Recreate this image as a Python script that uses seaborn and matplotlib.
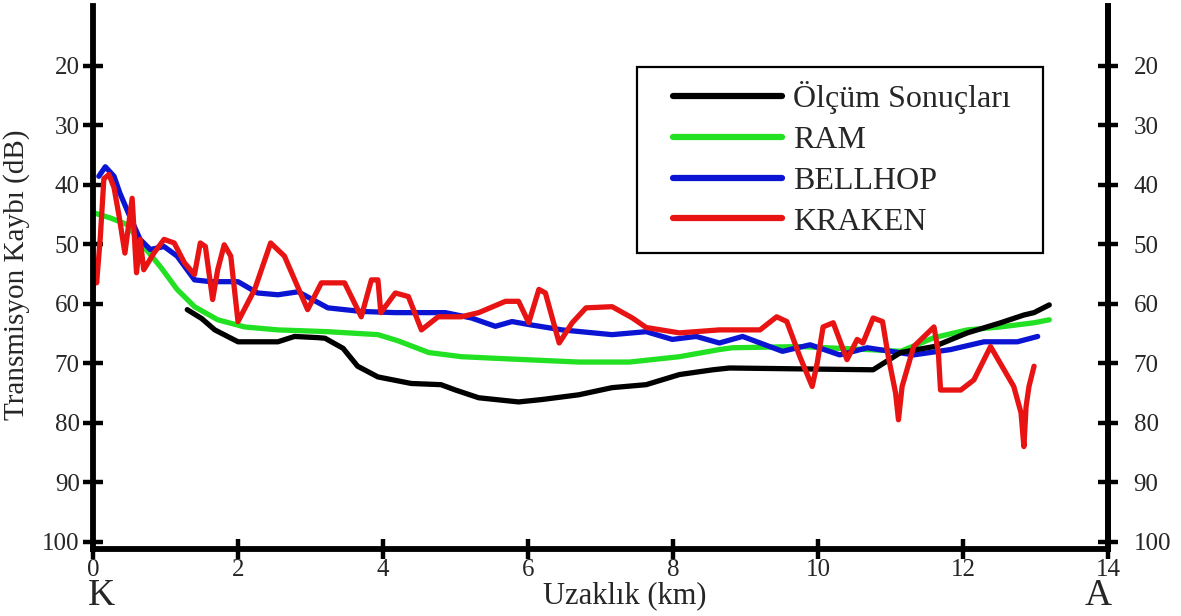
import numpy as np
import pandas as pd
import matplotlib
matplotlib.use("Agg")
import matplotlib.pyplot as plt
from matplotlib.lines import Line2D
from matplotlib.patches import Rectangle
import seaborn as sns

# Measured transmission loss (dB) versus range (km)
olcum_km = [1.3, 1.5, 1.68, 2.0, 2.55, 2.78, 3.1, 3.2, 3.45, 3.65, 3.93, 4.39, 4.8, 5.0,
            5.32, 5.87, 6.19, 6.7, 7.16, 7.63, 8.09, 8.55, 8.78, 10.76, 11.14, 11.6,
            12.06, 12.52, 12.84, 12.98, 13.19]
olcum_db = [61, 62.5, 64.4, 66.4, 66.4, 65.5, 65.7, 65.8, 67.5, 70.5, 72.3, 73.4, 73.6, 74.5,
            75.8, 76.5, 76.1, 75.3, 74.1, 73.6, 71.9, 71.1, 70.8, 71.1, 68.2, 67.2,
            64.9, 63.2, 61.9, 61.5, 60.2]

# RAM model
ram_km = [0.0, 0.24, 0.47, 0.7, 0.93, 1.16, 1.4, 1.72, 2.09, 2.55, 3.24, 3.93, 4.2, 4.63,
          5.08, 5.78, 6.7, 7.4, 8.09, 8.64, 8.82, 9.75, 10.68, 11.14, 11.6, 12.06, 12.52,
          12.98, 13.19]
ram_db = [44.7, 45.6, 46.7, 50.4, 53.8, 57.6, 60.5, 62.7, 63.9, 64.4, 64.7, 65.2, 66.2, 68.2,
          68.9, 69.3, 69.8, 69.8, 68.9, 67.7, 67.4, 67.2, 67.7, 68.0, 65.7, 64.4, 63.9,
          63.2, 62.7]

# BELLHOP model
bellhop_km = [0.08, 0.17, 0.29, 0.37, 0.51, 0.65, 0.79, 0.98, 1.16, 1.4, 1.62, 2.0, 2.27,
              2.55, 2.83, 3.24, 3.7, 4.17, 4.86, 5.22, 5.55, 5.78, 6.01, 6.47, 7.16, 7.63,
              7.99, 8.32, 8.64, 8.96, 9.51, 9.89, 10.3, 10.68, 11.32, 11.83, 12.29, 12.75,
              13.03]
bellhop_db = [38.6, 37.0, 38.6, 41.4, 45.4, 49.2, 50.9, 50.4, 52.0, 56.0, 56.3, 56.3, 58.2,
              58.5, 58.0, 60.7, 61.3, 61.5, 61.5, 62.4, 63.8, 63.0, 63.5, 64.4, 65.2, 64.7,
              66.0, 65.5, 66.6, 65.5, 68.0, 66.9, 68.6, 67.4, 68.6, 67.7, 66.4, 66.4, 65.5]

# KRAKEN model
kraken_km = [0.0, 0.01, 0.05, 0.1, 0.15, 0.22, 0.29, 0.36, 0.44, 0.54, 0.6, 0.65, 0.7,
             0.84, 0.98, 1.12, 1.26, 1.4, 1.48, 1.55, 1.65, 1.72, 1.81, 1.9, 2.0, 2.23,
             2.45, 2.64, 2.96, 3.15, 3.47, 3.7, 3.84, 3.93, 3.97, 4.17, 4.35, 4.53, 4.76,
             5.08, 5.32, 5.69, 5.87, 6.01, 6.15, 6.24, 6.43, 6.61, 6.8, 7.16, 7.44, 7.63,
             8.09, 8.64, 9.2, 9.43, 9.57, 9.75, 9.92, 9.99, 10.07, 10.21, 10.4, 10.54,
             10.62, 10.76, 10.89, 10.97, 11.07, 11.11, 11.16, 11.32, 11.6, 11.66, 11.69,
             11.97, 12.15, 12.38, 12.7, 12.8, 12.84, 12.87, 12.91, 12.98]
kraken_db = [59.8, 53.0, 56.5, 49.0, 39.0, 38.3, 40.5, 45.3, 51.5, 42.3, 54.8, 49.2, 54.3,
             51.5, 49.2, 49.8, 53.1, 55.1, 49.8, 50.4, 59.3, 54.3, 50.1, 52.0, 63.0, 57.6,
             49.8, 52.0, 61.0, 56.5, 56.5, 62.2, 56.0, 56.0, 61.5, 58.2, 58.8, 64.4, 62.2,
             62.2, 61.5, 59.6, 59.6, 63.2, 57.6, 58.2, 66.6, 63.2, 60.7, 60.5, 62.4, 64.0,
             64.9, 64.4, 64.4, 62.2, 63.0, 68.9, 73.9, 69.9, 63.9, 63.2, 69.4, 66.0,
             66.6, 62.4, 63.0, 68.9, 75.0, 79.5, 73.9, 67.2, 63.9, 68.2, 74.5,
             74.5, 72.8, 67.2, 73.9, 78.3, 84.0, 77.3, 73.9, 70.5]

series_names = ["Ölçüm Sonuçları", "RAM", "BELLHOP", "KRAKEN"]
series_colors = ["#000000", "#22e022", "#0a14d2", "#e81414"]
x_ticks = [0, 2, 4, 6, 8, 10, 12, 14]
y_ticks = [20, 30, 40, 50, 60, 70, 80, 90, 100]

frames = []
for name, xs, ys in zip(series_names,
                        [olcum_km, ram_km, bellhop_km, kraken_km],
                        [olcum_db, ram_db, bellhop_db, kraken_db]):
    frames.append(pd.DataFrame({"km": xs, "db": ys, "seri": name}))
df = pd.concat(frames, ignore_index=True)

sns.set_theme(style="white")
plt.rcParams["font.family"] = ["Liberation Serif", "DejaVu Serif"]

W, H = 1181, 616
fig = plt.figure(figsize=(W / 100, H / 100), dpi=100)
ax = fig.add_axes([93 / W, 1 - 549 / H, (1108 - 93) / W, (549 - 6) / H])

palette = dict(zip(series_names, series_colors))
# drawing order: RAM, BELLHOP, measurement, KRAKEN on top
draw_order = ["RAM", "BELLHOP", "Ölçüm Sonuçları", "KRAKEN"]
sns.lineplot(data=df, x="km", y="db", hue="seri", hue_order=draw_order,
             palette=palette, estimator=None, sort=False, linewidth=3.8,
             solid_capstyle="round", solid_joinstyle="round", legend=False, ax=ax)

ax.set_xlim(0, 14)
ax.set_ylim(101.2, 10)
ax.set_xticks(x_ticks)
ax.set_yticks(y_ticks)
ax.set_xticklabels([str(v) for v in x_ticks])

for side in ["left", "bottom", "right"]:
    ax.spines[side].set_visible(True)
    ax.spines[side].set_linewidth(4.2)
    ax.spines[side].set_color("black")
ax.spines["top"].set_visible(False)

ax.tick_params(axis="x", direction="inout", length=14, width=3.2, color="black",
               labelsize=18, pad=0, bottom=True)
ax.tick_params(axis="y", direction="inout", length=15, width=3.2, color="black",
               labelsize=18, pad=2, left=True, right=False)

# right-hand scale
ax2 = ax.twinx()
ax2.set_ylim(ax.get_ylim())
ax2.set_yticks(y_ticks)
for side in ["left", "bottom", "top"]:
    ax2.spines[side].set_visible(False)
ax2.spines["right"].set_linewidth(4.2)
ax2.spines["right"].set_color("black")
ax2.tick_params(axis="y", direction="inout", length=15, width=3.2, color="black",
                labelsize=18, pad=11, right=True)
ax2.grid(False)
ax.grid(False)

ax.set_xlabel("Uzaklık (km)", fontsize=22, va="baseline")
ax.xaxis.set_label_coords(0.524, -0.1)
ax.set_ylabel("Transmisyon Kaybı (dB)", fontsize=21)
ax.yaxis.set_label_coords(-0.062, 0.505)

ax.text(0.008, -0.104, "K", transform=ax.transAxes, fontsize=27,
        ha="center", va="baseline")
ax.text(0.99, -0.104, "A", transform=ax.transAxes, fontsize=27,
        ha="center", va="baseline")

# legend entries with a separate square frame
handles = [Line2D([0], [0], color=c, lw=4.5, solid_capstyle="round") for c in series_colors]
leg = fig.legend(handles, series_names, loc="upper left",
                 bbox_to_anchor=(673 / W, 1 - 81 / H), borderaxespad=0, borderpad=0,
                 fontsize=23, handlelength=3.4, handletextpad=0.37,
                 labelspacing=0.36, frameon=False)
fig.patches.append(Rectangle((637 / W, 1 - 253 / H), (1043 - 637) / W, (253 - 67) / H,
                             transform=fig.transFigure, fill=True, facecolor="white",
                             edgecolor="black", linewidth=1.6, zorder=0))

fig.savefig("out.png", dpi=100)
